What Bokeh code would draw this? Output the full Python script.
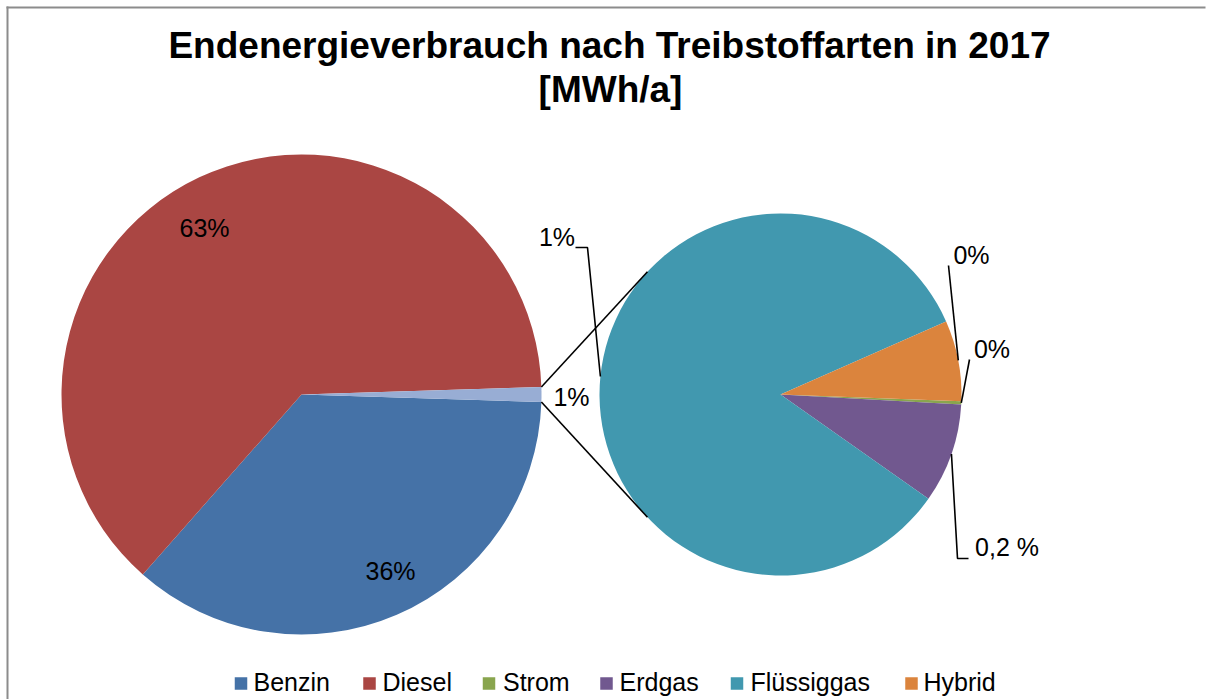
import math
from bokeh.plotting import figure
from bokeh.models import Range1d, ColumnDataSource
from bokeh.embed import file_html
from bokeh.resources import INLINE
from bokeh.core.properties import value

# ---------------- data ----------------
title_lines = ["Endenergieverbrauch nach Treibstoffarten in 2017", "[MWh/a]"]
categories = ["Benzin", "Diesel", "Strom", "Erdgas", "Flüssiggas", "Hybrid"]
shares = [36.0, 63.0, 0.003, 0.089, 0.837, 0.072]          # % of total consumption
colors = ["#4572A7", "#AA4643", "#89A54E", "#71588F", "#4198AF", "#DB843D"]
other_color = "#98ADD4"
main_labels = ["36%", "63%"]                               # Benzin, Diesel
other_label = "1%"
secondary_labels = ["0%", "0,2 %", "1%", "0%"]             # Strom, Erdgas, Flüssiggas, Hybrid

# ---------------- layout ----------------
W, H = 1206, 699
def X(xi): return xi
def Y(yi): return H - yi
def TY(yi, fs):  # baseline position corrected for renderer offset
    return H - (yi - 0.42 * fs)

FONT = value("Liberation Sans")
FS_T, FS_L = 37, 25

p = figure(width=W, height=H, x_range=Range1d(0, W), y_range=Range1d(0, H),
           output_backend="svg", toolbar_location=None, min_border=0)
p.axis.visible = False
p.grid.visible = False
p.outline_line_color = None
p.background_fill_color = "white"
p.border_fill_color = "white"

# chart border (left and top visible)
p.segment(x0=[X(7), X(6)], y0=[0, Y(7)], x1=[X(7), W - 1], y1=[Y(6), Y(7)],
          line_color="#8C8C8C", line_width=2, line_cap="butt")

# title
p.text(x=[X(609), X(610)], y=[TY(60.5, FS_T), TY(104.5, FS_T)], text=title_lines,
       text_font=FONT, text_font_style="bold", text_font_size=f"{FS_T}px",
       text_align="center", text_baseline="alphabetic", text_color="black")

total = sum(shares)
other = sum(shares[2:])

# ---- main pie ----
c1x, c1y, r1 = X(301), Y(394), 240
h = other / total * 180.0
benz_deg = shares[0] / total * 360.0
dies_deg = shares[1] / total * 360.0
m_start = [-h - benz_deg, -h - benz_deg - dies_deg, -h]
m_end = [-h, -h - benz_deg, h]
m_cols = [colors[0], colors[1], other_color]
p.wedge(x=c1x, y=c1y, radius=r1,
        start_angle=[math.radians(a) for a in m_start],
        end_angle=[math.radians(a) for a in m_end],
        fill_color=m_cols, line_color=None)

# ---- secondary pie ----
c2x, c2y, r2 = X(780), Y(394), 181
a0 = -2.1
sec = shares[2:]
sec_start, sec_end, sec_mid = [], [], []
a = a0
for s in sec:
    d = s / other * 360.0
    sec_end.append(a)
    sec_start.append(a - d)
    sec_mid.append(a - d / 2)
    a -= d
p.wedge(x=c2x, y=c2y, radius=r2,
        start_angle=[math.radians(v) for v in sec_start],
        end_angle=[math.radians(v) for v in sec_end],
        fill_color=colors[2:], line_color=None)

# connecting lines
conn_ang = 137.3
for sgn in (1, -1):
    x0 = c1x + r1 * math.cos(math.radians(sgn * h))
    y0 = c1y + r1 * math.sin(math.radians(sgn * h))
    x1 = c2x + r2 * math.cos(math.radians(sgn * conn_ang))
    y1 = c2y + r2 * math.sin(math.radians(sgn * conn_ang))
    p.line([x0, x1], [y0, y1], line_color="black", line_width=1.6)

def on_circ2(ang, rr=r2):
    return (c2x + rr * math.cos(math.radians(ang)), c2y + rr * math.sin(math.radians(ang)))

# leader lines for secondary labels
ps, pe, pf, ph = [on_circ2(m) for m in sec_mid]
leaders_x = [
    [X(969), ps[0]],
    [pe[0], X(957), X(968)],
    [X(575), X(587), pf[0]],
    [X(948), ph[0]],
]
leaders_y = [
    [Y(359), ps[1]],
    [pe[1], Y(558), Y(558)],
    [Y(247), Y(247), pf[1]],
    [Y(265), ph[1]],
]
p.multi_line(xs=leaders_x, ys=leaders_y, line_color="black", line_width=1.6)

# data labels
lab_src = ColumnDataSource(dict(
    x=[X(390), X(204), X(571), X(991.5), X(1006.5), X(556.5), X(971)],
    y=[TY(v, FS_L) for v in (581, 238, 407, 359, 557, 247, 265)],
    t=main_labels + [other_label] + secondary_labels,
))
p.text(x="x", y="y", text="t", source=lab_src, text_font=FONT,
       text_font_size=f"{FS_L}px", text_align="center", text_baseline="alphabetic",
       text_color="black")

# legend
leg_sq_x = [X(240.5), X(369), X(488.5), X(606), X(736.5), X(911)]
leg_tx_x = [X(253), X(382), X(502.5), X(619), X(750), X(923)]
p.scatter(x=leg_sq_x, y=[Y(683)] * 6, marker="square", size=12.5,
          fill_color=colors, line_color=None)
p.text(x=leg_tx_x, y=[TY(691.5, FS_L)] * 6, text=categories, text_font=FONT,
       text_font_size=f"{FS_L}px", text_align="left", text_baseline="alphabetic",
       text_color="black")

open("out.html", "w").write(file_html(p, INLINE))
